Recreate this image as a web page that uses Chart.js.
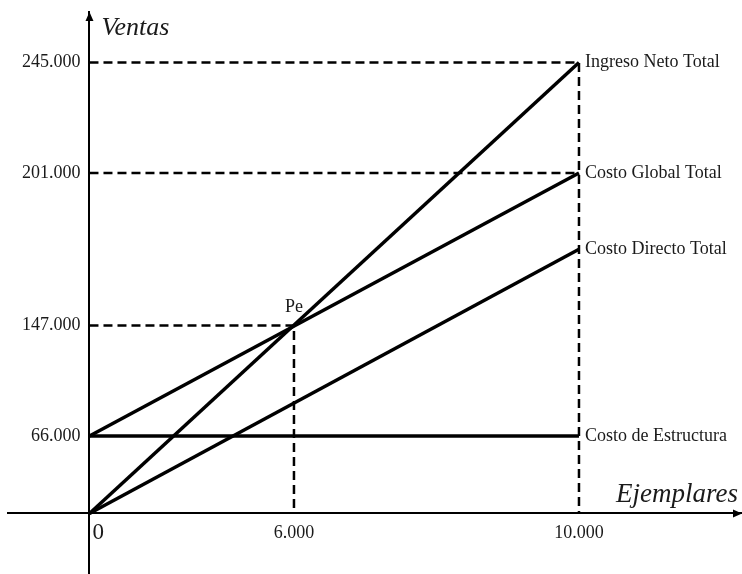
<!DOCTYPE html>
<html>
<head>
<meta charset="utf-8">
<script src="https://cdn.jsdelivr.net/npm/chart.js@4/dist/chart.umd.min.js"></script>
<style>
  html, body { margin: 0; padding: 0; background: #fff; }
  #wrap { width: 742px; height: 574px; }
</style>
</head>
<body>
<div id="wrap"><canvas id="chart-pe"></canvas></div>
<script>
/* ---------- DATOS ---------- */
const ejemplares = [0, 10000];
const ingresoNetoTotal = [0, 245000];
const costoGlobalTotal = [66000, 201000];
const costoDirectoTotal = [0, 174000]; // (sin rotulo)
const costoEstructura = [66000, 66000];
const puntoEquilibrio = [6000, 147000]; // [ejemplares, ventas]
const ticksVentas = [66000, 147000, 201000, 245000];
const ticksEjemplares = [6000, 10000];
const rotulos = ["Ingreso Neto Total", "Costo Global Total", "Costo Directo Total", "Costo de Estructura"];
/* --------------------------- */

const SERIF = '"Liberation Serif", "Times New Roman", serif';
const TEXT = "#1a1a1a";

// el grafico original no esta a escala: cada eje es lineal por tramos
// [valor, fraccion del area del grafico]
const tramos = {
  x: [[0, 0.1110], [6000, 0.3896], [10000, 0.7779]],
  y: [[0, 0.1077], [66000, 0.2456], [147000, 0.4422], [201000, 0.7135], [245000, 0.9101]],
};

function aDecimal(v, t) {
  let i = 1;
  while (i < t.length - 1 && v > t[i][0]) i++;
  const [v0, d0] = t[i - 1];
  const [v1, d1] = t[i];
  return d0 + ((v - v0) * (d1 - d0)) / (v1 - v0);
}
function aValor(d, t) {
  let i = 1;
  while (i < t.length - 1 && d > t[i][1]) i++;
  const [v0, d0] = t[i - 1];
  const [v1, d1] = t[i];
  return v0 + ((d - d0) * (v1 - v0)) / (d1 - d0);
}

class PiecewiseScale extends Chart.LinearScale {
  getPixelForValue(value) {
    if (value === null || value === undefined) return NaN;
    return this.getPixelForDecimal(aDecimal(value, tramos[this.id]));
  }
  getValueForPixel(pixel) {
    return aValor(this.getDecimalForPixel(pixel), tramos[this.id]);
  }
}
PiecewiseScale.id = "piecewise";
PiecewiseScale.defaults = Chart.LinearScale.defaults;
Chart.register(PiecewiseScale);

const miles = (v) => String(v).replace(/\B(?=(\d{3})+(?!\d))/g, ".");
const pts = (xs, ys) => xs.map((x, i) => ({ x, y: ys[i] }));

const fin = ejemplares.length - 1;
const solida = { borderColor: "#000", borderWidth: 3.5, pointRadius: 0, borderCapStyle: "butt", fill: false };
const punteada = { borderColor: "#000", borderWidth: 2.5, pointRadius: 0, borderDash: [9, 5], borderCapStyle: "butt", fill: false };

const datasets = [
  { label: rotulos[0], data: pts(ejemplares, ingresoNetoTotal), ...solida },
  { label: rotulos[1], data: pts(ejemplares, costoGlobalTotal), ...solida },
  { label: rotulos[2], data: pts(ejemplares, costoDirectoTotal), ...solida },
  { label: rotulos[3], data: pts(ejemplares, costoEstructura), ...solida },
  // guias punteadas
  {
    label: "guia ingreso",
    data: [
      { x: ejemplares[0], y: ingresoNetoTotal[fin] },
      { x: ejemplares[fin], y: ingresoNetoTotal[fin] },
      { x: ejemplares[fin], y: 0 },
    ],
    ...punteada,
  },
  {
    label: "guia costo global",
    data: [
      { x: ejemplares[0], y: costoGlobalTotal[fin] },
      { x: ejemplares[fin], y: costoGlobalTotal[fin] },
    ],
    ...punteada,
  },
  {
    label: "guia Pe",
    data: [
      { x: ejemplares[0], y: puntoEquilibrio[1] },
      { x: puntoEquilibrio[0], y: puntoEquilibrio[1] },
      { x: puntoEquilibrio[0], y: 0 },
    ],
    ...punteada,
  },
];

// fondo blanco, flechas de los ejes, titulos y rotulos de las rectas
const extras = {
  id: "extras",
  beforeDraw(chart) {
    const { ctx, width, height } = chart;
    ctx.save();
    ctx.fillStyle = "#fff";
    ctx.fillRect(0, 0, width, height);
    ctx.restore();
  },
  afterDraw(chart) {
    const { ctx, chartArea } = chart;
    const sx = chart.scales.x;
    const sy = chart.scales.y;
    const ox = sx.getPixelForValue(0);
    const oy = sy.getPixelForValue(0);

    ctx.save();
    ctx.fillStyle = "#000";
    // flecha eje Y
    ctx.beginPath();
    ctx.moveTo(ox, chartArea.top);
    ctx.lineTo(ox - 4, chartArea.top + 9);
    ctx.lineTo(ox + 4, chartArea.top + 9);
    ctx.closePath();
    ctx.fill();
    // flecha eje X
    ctx.beginPath();
    ctx.moveTo(chartArea.right, oy);
    ctx.lineTo(chartArea.right - 9, oy - 4);
    ctx.lineTo(chartArea.right - 9, oy + 4);
    ctx.closePath();
    ctx.fill();

    ctx.fillStyle = TEXT;
    // titulos de los ejes
    ctx.font = `italic 26px ${SERIF}`;
    ctx.textAlign = "left";
    ctx.textBaseline = "alphabetic";
    ctx.fillText("Ventas", ox + 12, chartArea.top + 23);
    ctx.font = `italic 27px ${SERIF}`;
    ctx.textAlign = "right";
    ctx.fillText("Ejemplares", chartArea.right - 4, oy - 11);

    // origen
    ctx.font = `23px ${SERIF}`;
    ctx.textAlign = "left";
    ctx.fillText("0", ox + 3, oy + 26);

    // rotulos al final de cada recta
    ctx.font = `18px ${SERIF}`;
    ctx.textBaseline = "middle";
    for (let i = 0; i < 4; i++) {
      const p = chart.getDatasetMeta(i).data[fin];
      ctx.fillText(rotulos[i], p.x + 6, p.y);
    }

    // punto de equilibrio
    ctx.textAlign = "center";
    ctx.textBaseline = "alphabetic";
    ctx.fillText("Pe", sx.getPixelForValue(puntoEquilibrio[0]), sy.getPixelForValue(puntoEquilibrio[1]) - 13);
    ctx.restore();
  },
};

const sinPadding = (scale) => {
  scale.paddingTop = 0;
  scale.paddingBottom = 0;
  scale.paddingLeft = 0;
  scale.paddingRight = 0;
};

new Chart(document.getElementById("chart-pe"), {
  type: "line",
  data: { datasets },
  options: {
    responsive: true,
    maintainAspectRatio: false,
    animation: false,
    events: [],
    layout: { padding: { top: 12, right: 0, bottom: 0, left: 8 } },
    plugins: { legend: { display: false }, tooltip: { enabled: false } },
    scales: {
      x: {
        type: "piecewise",
        min: -2400,
        max: 12300,
        position: { y: 0 },
        grid: { display: false, drawTicks: false },
        border: { display: true, color: "#000", width: 2 },
        afterBuildTicks: (scale) => {
          scale.ticks = ticksEjemplares.map((value) => ({ value }));
        },
        afterFit: sinPadding,
        ticks: {
          autoSkip: false,
          maxRotation: 0,
          padding: 9,
          color: TEXT,
          font: { family: SERIF, size: 18 },
          callback: (v) => miles(v),
        },
      },
      y: {
        type: "piecewise",
        min: -51000,
        max: 265000,
        position: { x: 0 },
        grid: { display: false, drawTicks: false },
        border: { display: true, color: "#000", width: 2 },
        afterBuildTicks: (scale) => {
          scale.ticks = ticksVentas.map((value) => ({ value }));
        },
        afterFit: sinPadding,
        ticks: {
          autoSkip: false,
          color: TEXT,
          font: { family: SERIF, size: 18 },
          // el rotulo queda pegado al eje: dos espacios de separacion
          callback: (v) => `${miles(v)}  `,
        },
      },
    },
  },
  plugins: [extras],
});
</script>
</body>
</html>
